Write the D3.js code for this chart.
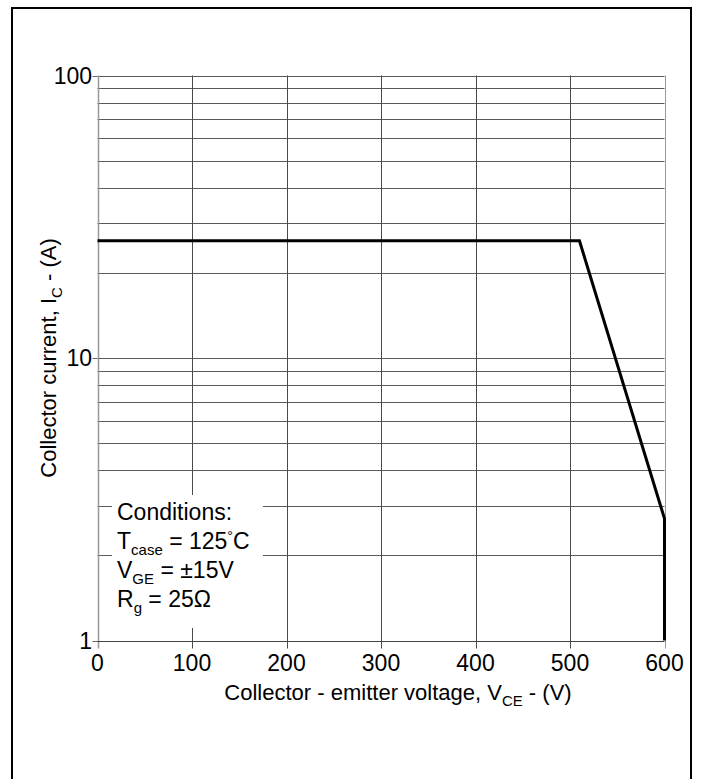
<!DOCTYPE html>
<html>
<head>
<meta charset="utf-8">
<script src="https://cdn.jsdelivr.net/npm/d3@7"></script>
<style>
  html, body { margin: 0; padding: 0; background: #fff; }
  svg { display: block; }
  text { font-family: "Liberation Sans", Arial, Helvetica, sans-serif; fill: #000; }
</style>
</head>
<body>
<script>
// Reverse-bias safe operating area: collector current vs collector-emitter voltage
const voltage = [0, 510, 600, 600];      // V_CE (V)
const current = [26, 26, 2.7, 1];        // I_C (A)

const xTicks = [0, 100, 200, 300, 400, 500, 600];
const yTicks = [1, 10, 100];
const yGrid = [2, 3, 4, 5, 6, 7, 8, 9, 10, 20, 30, 40, 50, 60, 70, 80, 90, 100];

const conditions = [
  [["Conditions:", null]],
  [["T", null], ["case", "sub"], [" = 125", null], ["°", "sup"], ["C", null]],
  [["V", null], ["GE", "sub"], [" = ±15V", null]],
  [["R", null], ["g", "sub"], [" = 25Ω", null]]
];

const W = 705, H = 779;
const svg = d3.select("body").append("svg").attr("width", W).attr("height", H);

const x = d3.scaleLinear().domain([0, 600]).range([97.5, 664.5]);
const y = d3.scaleLog().domain([1, 100]).range([640.5, 75.5]);

// outer frame
svg.append("rect")
  .attr("x", 12).attr("y", 8).attr("width", 679).attr("height", 790)
  .attr("fill", "none").attr("stroke", "#000").attr("stroke-width", 2);

const px = v => Math.round(v) + 0.5;

// horizontal grid
svg.append("g").selectAll("line").data(yGrid).join("line")
  .attr("x1", x(0)).attr("x2", x(600))
  .attr("y1", d => px(y(d))).attr("y2", d => px(y(d)))
  .attr("stroke", "#5a5a5a").attr("stroke-width", 1);

// vertical grid, extended below the axis as tick marks
svg.append("g").selectAll("line").data(xTicks.slice(1, -1)).join("line")
  .attr("x1", d => px(x(d))).attr("x2", d => px(x(d)))
  .attr("y1", y(100)).attr("y2", y(1) + 8)
  .attr("stroke", "#4a4a4a").attr("stroke-width", 1);

// right edge (600 V)
svg.append("line")
  .attr("x1", px(x(600))).attr("x2", px(x(600)))
  .attr("y1", y(100)).attr("y2", y(1) + 8)
  .attr("stroke", "#999").attr("stroke-width", 1);

// left axis
svg.append("line")
  .attr("x1", px(x(0))).attr("x2", px(x(0)))
  .attr("y1", y(100)).attr("y2", y(1) + 8)
  .attr("stroke", "#999").attr("stroke-width", 1.5);

// bottom axis
svg.append("line")
  .attr("x1", x(0) - 4).attr("x2", x(600))
  .attr("y1", px(y(1))).attr("y2", px(y(1)))
  .attr("stroke", "#444").attr("stroke-width", 1);

// y tick marks
svg.append("g").selectAll("line").data(yTicks).join("line")
  .attr("x1", x(0) - 5).attr("x2", x(0))
  .attr("y1", d => px(y(d))).attr("y2", d => px(y(d)))
  .attr("stroke", "#666").attr("stroke-width", 1);

// conditions box (blanks the grid behind the text)
svg.append("rect")
  .attr("x", 112).attr("y", 495).attr("width", 151).attr("height", 133)
  .attr("fill", "#fff");

// SOA boundary
const pts = voltage.map((v, i) => [x(v), y(current[i])]);
svg.append("path")
  .attr("d", d3.line()(pts))
  .attr("fill", "none").attr("stroke", "#000").attr("stroke-width", 3)
  .attr("stroke-linejoin", "miter");

// x tick labels
svg.append("g").selectAll("text").data(xTicks).join("text")
  .attr("x", d => x(d)).attr("y", 670.5)
  .attr("text-anchor", "middle").attr("font-size", 23)
  .text(d => d);

// y tick labels
svg.append("g").selectAll("text").data(yTicks).join("text")
  .attr("x", 92).attr("y", d => y(d) + 8)
  .attr("text-anchor", "end").attr("font-size", 23)
  .text(d => d);

// x title
const xt = svg.append("text")
  .attr("x", 398).attr("y", 700)
  .attr("text-anchor", "middle").attr("font-size", 22);
xt.append("tspan").text("Collector - emitter voltage, V");
xt.append("tspan").attr("font-size", 15).attr("dy", 6).text("CE");
xt.append("tspan").attr("dy", -6).text(" - (V)");

// y title
const yt = svg.append("text")
  .attr("transform", `translate(56,${(y(1) + y(100)) / 2}) rotate(-90)`)
  .attr("text-anchor", "middle").attr("font-size", 22);
yt.append("tspan").text("Collector current, I");
yt.append("tspan").attr("font-size", 15).attr("dy", 6).text("C");
yt.append("tspan").attr("dy", -6).text(" - (A)");

// conditions text
const baselines = [520, 549, 578, 607];
conditions.forEach((parts, i) => {
  const t = svg.append("text")
    .attr("x", 117).attr("y", baselines[i]).attr("font-size", 23);
  let shift = 0;
  parts.forEach(([s, kind]) => {
    const target = kind === "sub" ? 6 : kind === "sup" ? -8 : 0;
    const sp = t.append("tspan").attr("dy", target - shift).text(s);
    if (kind) sp.attr("font-size", kind === "sub" ? 15 : 14);
    shift = target;
  });
});
</script>
</body>
</html>
